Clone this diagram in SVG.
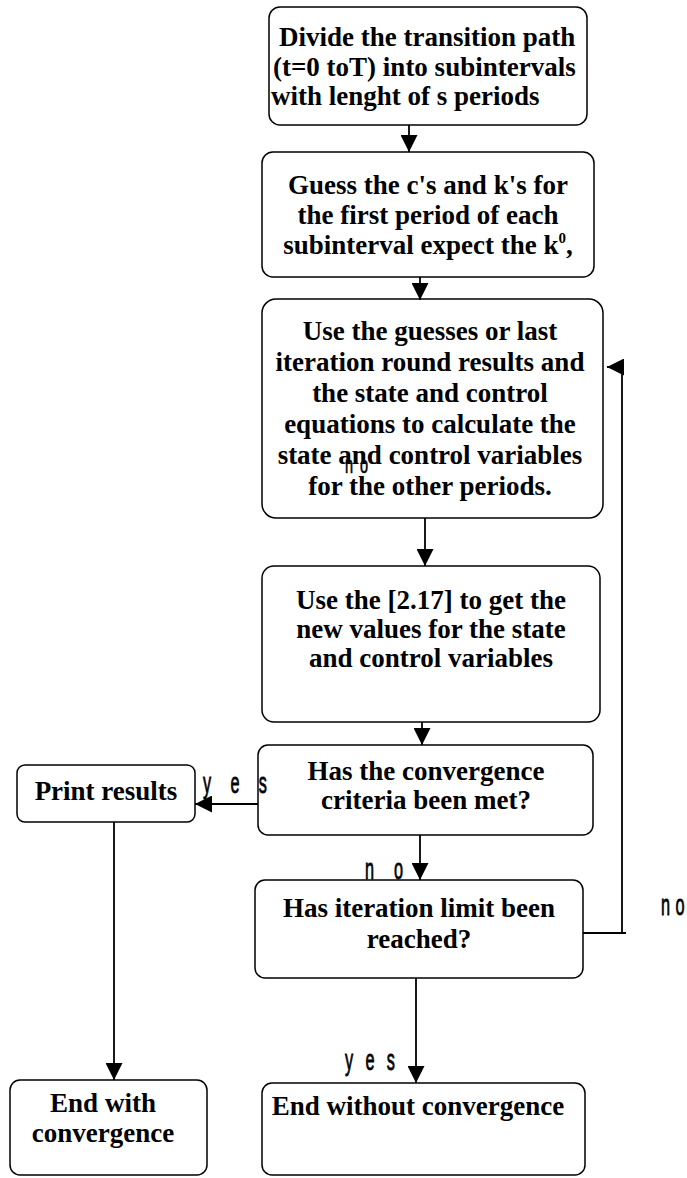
<svg xmlns="http://www.w3.org/2000/svg" width="687" height="1178" viewBox="0 0 687 1178">
<style>
.box{fill:#fff;stroke:#000;stroke-width:1.5}
.t{font-family:"Liberation Serif","Times New Roman",serif;font-weight:bold;font-size:27px;fill:#000}
.c{text-anchor:middle}
.lbl{font-family:"Liberation Sans",Arial,sans-serif;font-size:29px;fill:#000;stroke:#000;stroke-width:0.8}
.ln{fill:none;stroke:#000;stroke-width:1.8}
</style>
<defs>
<marker id="ah" viewBox="0 0 16 17" refX="17" refY="8.5" markerWidth="17" markerHeight="17" markerUnits="userSpaceOnUse" orient="auto"><path d="M0,0 L17,8.5 L0,17 z" fill="#000"/></marker>
</defs>
<rect width="687" height="1178" fill="#fff"/>
<g id="n1">
<rect class="box" x="269" y="7" width="318" height="118" rx="11"/>
<text class="t" x="279" y="46">Divide the transition path</text>
<text class="t" x="273" y="76">(t=0 toT) into subintervals</text>
<text class="t" x="271" y="105">with lenght of s periods</text>
</g>
<g id="n2">
<rect class="box" x="262" y="152" width="332" height="125" rx="11"/>
<text class="t c" x="428" y="194">Guess the c's and k's for</text>
<text class="t c" x="428" y="224">the first period of each</text>
<text class="t c" x="428" y="254">subinterval expect the k<tspan font-size="15" dy="-11">0</tspan><tspan dy="11">,</tspan></text>
</g>
<g id="n3">
<rect class="box" x="262" y="299" width="341" height="219" rx="14"/>
<text class="t c" x="430" y="340">Use the guesses or last</text>
<text class="t c" x="430" y="371">iteration round results and</text>
<text class="t c" x="430" y="402">the state and control</text>
<text class="t c" x="430" y="433">equations to calculate the</text>
<text class="t c" x="430" y="464">state and control variables</text>
<text class="t c" x="430" y="495">for the other periods.</text>
</g>
<g id="n4">
<rect class="box" x="262" y="566" width="338" height="156" rx="12"/>
<text class="t c" x="431" y="609">Use the [2.17] to get the</text>
<text class="t c" x="431" y="638">new values for the state</text>
<text class="t c" x="431" y="667">and control variables</text>
</g>
<g id="n5">
<rect class="box" x="258" y="745" width="335" height="90" rx="10"/>
<text class="t c" x="426" y="780">Has the convergence</text>
<text class="t c" x="426" y="809">criteria been met?</text>
</g>
<g id="n6">
<rect class="box" x="17" y="765" width="178" height="57" rx="8"/>
<text class="t c" x="106" y="800">Print  results</text>
</g>
<g id="n7">
<rect class="box" x="255" y="880" width="328" height="98" rx="10"/>
<text class="t c" x="419" y="917">Has iteration limit been</text>
<text class="t c" x="419" y="948">reached?</text>
</g>
<g id="n8">
<rect class="box" x="10" y="1080" width="197" height="95" rx="10"/>
<text class="t c" x="103" y="1112">End with</text>
<text class="t c" x="103" y="1142">convergence</text>
</g>
<g id="n9">
<rect class="box" x="262" y="1083" width="323" height="92" rx="10"/>
<text class="t c" x="418" y="1115">End without convergence</text>
</g>
<g id="connectors">
<path class="ln" d="M409,125 V152" marker-end="url(#ah)"/>
<path class="ln" d="M420,277 V300" marker-end="url(#ah)"/>
<path class="ln" d="M425,518 V566" marker-end="url(#ah)"/>
<path class="ln" d="M422,722 V745" marker-end="url(#ah)"/>
<path class="ln" d="M258,804 H195" marker-end="url(#ah)"/>
<path class="ln" d="M114,822 V1080" marker-end="url(#ah)"/>
<path class="ln" d="M420,835 V880" marker-end="url(#ah)"/>
<path class="ln" d="M583,933 H626 M622,933 V367 H607" marker-end="url(#ah)"/>
<path class="ln" d="M416,978 V1083" marker-end="url(#ah)"/>
<text class="lbl" transform="translate(203,793) scale(0.56,1)" textLength="114" lengthAdjust="spacing">y e s</text>
<text class="lbl" transform="translate(365,879) scale(0.56,1)" textLength="68" lengthAdjust="spacing">n o</text>
<text class="lbl" transform="translate(661,915) scale(0.56,1)" textLength="42" lengthAdjust="spacing">n o</text>
<text class="lbl" transform="translate(345,1070) scale(0.56,1)" textLength="89" lengthAdjust="spacing">y e s</text>
<text class="lbl" transform="translate(345,473) scale(0.5,0.8)" textLength="46" lengthAdjust="spacing">n o</text>
</g>
</svg>
